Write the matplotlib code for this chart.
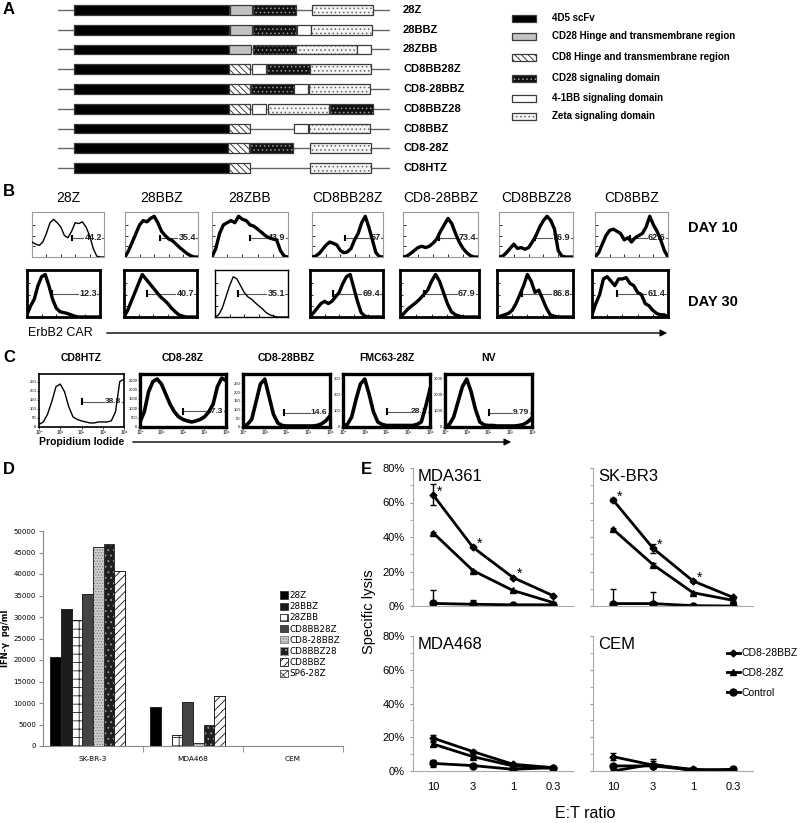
import matplotlib
matplotlib.use("Agg")
import matplotlib.pyplot as plt
import numpy as np
from matplotlib.lines import Line2D
from matplotlib.patches import FancyArrowPatch
from matplotlib.ticker import PercentFormatter

plt.rcParams["font.family"] = ["Liberation Sans", "DejaVu Sans"]
plt.rcParams["hatch.linewidth"] = 0.6

# ---------------- data ----------------
# A: CAR constructs (domain order + start position, arbitrary length units)
construct_names = ["28Z", "28BBZ", "28ZBB", "CD8BB28Z", "CD8-28BBZ",
                   "CD8BBZ28", "CD8BBZ", "CD8-28Z", "CD8HTZ"]
construct_domains = [
    ["scfv", "cd28tm", "cd28", "zeta"],
    ["scfv", "cd28tm", "cd28", "bb", "zeta"],
    ["scfv", "cd28tm", "cd28", "zeta", "bb"],
    ["scfv", "cd8tm", "bb", "cd28", "zeta"],
    ["scfv", "cd8tm", "cd28", "bb", "zeta"],
    ["scfv", "cd8tm", "bb", "zeta", "cd28"],
    ["scfv", "cd8tm", "bb", "zeta"],
    ["scfv", "cd8tm", "cd28", "zeta"],
    ["scfv", "cd8tm", "zeta"],
]
construct_starts = [
    [0, 156, 179, 238],
    [0, 156, 179, 223, 237],
    [0, 155, 179, 222, 283],
    [0, 155, 178, 193, 236],
    [0, 155, 177, 220, 235],
    [0, 155, 178, 194, 256],
    [0, 155, 220, 235],
    [0, 154, 176, 236],
    [0, 155, 236],
]
backbone = [-16, 316]
domain_keys = ["scfv", "cd28tm", "cd8tm", "cd28", "bb", "zeta"]
domain_lengths = [155, 22, 21, 43, 14, 61]
domain_labels = ["4D5 scFv", "CD28 Hinge and transmembrane region",
                 "CD8 Hinge and transmembrane region", "CD28 signaling domain",
                 "4-1BB signaling domain", "Zeta signaling domain"]

# B: ErbB2 CAR expression histograms (relative counts across the channel range)
b_titles = ["28Z", "28BBZ", "28ZBB", "CD8BB28Z", "CD8-28BBZ", "CD8BBZ28", "CD8BBZ"]
b_day10 = [
    [0.35, 0.3, 0.27, 0.35, 0.55, 0.8, 0.88, 0.8, 0.7, 0.5, 0.45, 0.6, 0.8, 0.78, 0.82, 0.7, 0.5, 0.2, 0.02, 0, 0],
    [0, 0.15, 0.35, 0.55, 0.75, 0.85, 0.82, 0.9, 0.95, 0.8, 0.6, 0.5, 0.42, 0.38, 0.3, 0.22, 0.15, 0.08, 0.03, 0, 0],
    [0, 0.2, 0.55, 0.75, 0.8, 0.85, 0.8, 0.95, 0.88, 0.85, 0.75, 0.72, 0.65, 0.58, 0.5, 0.45, 0.42, 0.4, 0.15, 0.02, 0],
    [0, 0.02, 0.08, 0.18, 0.28, 0.35, 0.32, 0.28, 0.15, 0.1, 0.12, 0.2, 0.4, 0.55, 0.8, 0.95, 0.7, 0.4, 0.1, 0.01, 0],
    [0, 0.02, 0.08, 0.15, 0.22, 0.25, 0.22, 0.25, 0.32, 0.42, 0.6, 0.75, 0.9, 0.78, 0.55, 0.35, 0.2, 0.1, 0.03, 0, 0],
    [0, 0.02, 0.1, 0.2, 0.3, 0.2, 0.22, 0.18, 0.22, 0.35, 0.5, 0.7, 0.85, 0.95, 0.85, 0.65, 0.15, 0.02, 0, 0, 0],
    [0, 0.1, 0.3, 0.5, 0.62, 0.65, 0.6, 0.55, 0.4, 0.45, 0.35, 0.45, 0.5, 0.55, 0.7, 0.95, 0.75, 0.6, 0.4, 0.15, 0],
]
b_day30 = [
    [0.05, 0.25, 0.4, 0.7, 0.9, 0.95, 0.7, 0.4, 0.2, 0.12, 0.1, 0.08, 0.05, 0.02, 0, 0, 0, 0, 0, 0, 0],
    [0, 0.15, 0.35, 0.55, 0.75, 0.95, 0.85, 0.75, 0.65, 0.55, 0.45, 0.38, 0.3, 0.2, 0.12, 0.05, 0.02, 0, 0, 0, 0],
    [0, 0.05, 0.2, 0.45, 0.7, 0.9, 0.85, 0.7, 0.55, 0.45, 0.4, 0.32, 0.25, 0.18, 0.1, 0.05, 0.02, 0, 0, 0, 0],
    [0, 0.1, 0.2, 0.3, 0.35, 0.3, 0.35, 0.45, 0.55, 0.75, 0.9, 0.95, 0.65, 0.35, 0.1, 0.02, 0, 0, 0, 0, 0],
    [0, 0.08, 0.18, 0.25, 0.32, 0.4, 0.5, 0.6, 0.8, 0.95, 0.8, 0.55, 0.3, 0.12, 0.05, 0.02, 0, 0, 0, 0, 0],
    [0, 0.02, 0.05, 0.08, 0.15, 0.3, 0.5, 0.7, 0.95, 0.8, 0.55, 0.6, 0.4, 0.2, 0.05, 0.02, 0, 0, 0, 0, 0],
    [0.05, 0.3, 0.5, 0.85, 0.9, 0.8, 0.7, 0.85, 0.85, 0.88, 0.75, 0.7, 0.55, 0.5, 0.3, 0.25, 0.15, 0.08, 0.05, 0.05, 0],
]
b_pct10 = [44.2, 35.4, 43.9, 67, 73.4, 76.9, 62.6]
b_pct30 = [12.3, 40.7, 35.1, 69.4, 67.9, 86.8, 61.4]
b_gate10 = [0.55, 0.48, 0.5, 0.47, 0.48, 0.49, 0.48]
b_gate30 = [0.34, 0.31, 0.32, 0.32, 0.3, 0.33, 0.33]

# C: propidium iodide histograms (log decades 10^0..10^4)
c_titles = ["CD8HTZ", "CD8-28Z", "CD8-28BBZ", "FMC63-28Z", "NV"]
c_hist = [
    [0.05, 0.1, 0.25, 0.5, 0.8, 0.85, 0.7, 0.4, 0.2, 0.15, 0.12, 0.1, 0.08, 0.08, 0.1, 0.1, 0.1, 0.12, 0.3, 0.9, 0.95],
    [0.1, 0.3, 0.7, 0.9, 0.95, 0.85, 0.65, 0.45, 0.3, 0.2, 0.15, 0.12, 0.1, 0.12, 0.15, 0.2, 0.3, 0.45, 0.8, 0.97, 0.92],
    [0.02, 0.05, 0.15, 0.5, 0.85, 0.95, 0.6, 0.25, 0.08, 0.03, 0.02, 0.02, 0.02, 0.02, 0.02, 0.02, 0.02, 0.03, 0.06, 0.12, 0.22],
    [0.02, 0.05, 0.2, 0.55, 0.85, 0.95, 0.65, 0.3, 0.1, 0.05, 0.03, 0.03, 0.03, 0.03, 0.03, 0.03, 0.03, 0.05, 0.1, 0.4, 0.75],
    [0.02, 0.05, 0.2, 0.5, 0.8, 0.95, 0.7, 0.35, 0.1, 0.04, 0.03, 0.03, 0.02, 0.02, 0.02, 0.02, 0.02, 0.03, 0.05, 0.1, 0.18],
]
c_pct = [38.8, 47.3, 14.6, 28.1, 9.79]
c_gate_x = [2.0, 2.0, 1.9, 2.0, 2.0]
c_gate_y = [0.5, 0.31, 0.28, 0.3, 0.28]
c_ymax = [280, 2700, 290, 310, 3100]
c_yticks = [[0, 50, 100, 150, 200, 250], [0, 500, 1000, 1500, 2000, 2500],
            [0, 50, 100, 150, 200, 250], [0, 100, 200, 300], [0, 1000, 2000, 3000]]
c_xticklabels = ["10\u2070", "10\u00b9", "10\u00b2", "10\u00b3", "10\u2074"]

# D: IFN-gamma release
d_groups = ["SK-BR-3", "MDA468", "CEM"]
d_series = ["28Z", "28BBZ", "28ZBB", "CD8BB28Z", "CD8-28BBZ", "CD8BBZ28", "CD8BBZ", "SP6-28Z"]
d_values = [
    [20600, 9000, 0],
    [31800, 0, 0],
    [29200, 2600, 0],
    [35400, 10300, 0],
    [46300, 800, 0],
    [46900, 4900, 0],
    [40700, 11700, 0],
    [0, 0, 0],
]

# E: specific lysis vs E:T ratio
e_ratios = ["10", "3", "1", "0.3"]
e_targets = ["MDA361", "SK-BR3", "MDA468", "CEM"]
lysis_bbz = [[0.645, 0.34, 0.165, 0.06], [0.615, 0.335, 0.145, 0.05],
             [0.195, 0.115, 0.04, 0.02], [0.085, 0.035, 0.01, 0.0]]
err_bbz = [[0.06, 0.006, 0.005, 0.005], [0.01, 0.025, 0.005, 0.005],
           [0.02, 0.01, 0.005, 0.005], [0.02, 0.01, 0.005, 0.005]]
lysis_28z = [[0.425, 0.205, 0.09, 0.02], [0.445, 0.24, 0.077, 0.033],
             [0.16, 0.085, 0.03, 0.016], [0.0, 0.04, 0.002, 0.0]]
err_28z = [[0.005, 0.005, 0.005, 0.005], [0.005, 0.01, 0.005, 0.005],
           [0.01, 0.01, 0.005, 0.005], [0.005, 0.02, 0.005, 0.005]]
lysis_ctrl = [[0.015, 0.01, 0.007, 0.007], [0.014, 0.014, 0.002, 0.0],
              [0.045, 0.032, 0.01, 0.02], [0.03, 0.03, 0.006, 0.01]]
err_ctrl = [[0.08, 0.025, 0.0, 0.0], [0.085, 0.07, 0.0, 0.0],
            [0.02, 0.01, 0.0, 0.005], [0.01, 0.04, 0.02, 0.005]]
e_stars = [[0, 1, 2], [0, 1, 2], [], []]

# ---------------- layout helpers ----------------
W, H = 800, 823


def rect(l, t, r, b):
    return [l / W, 1 - b / H, (r - l) / W, (b - t) / H]


def fx(x):
    return x / W


def fy(y):
    return 1 - y / H


domain_face = {"scfv": "black", "cd28tm": "#c2c2c2", "cd8tm": "white",
               "cd28": "#111111", "bb": "white", "zeta": "#f4f4f4"}
domain_hatch = {"scfv": None, "cd28tm": None, "cd8tm": "\\\\\\\\\\",
                "cd28": "....", "bb": None, "zeta": "...."}
domain_hcolor = {"cd8tm": "#222222", "cd28": "#9a9a9a", "zeta": "#666666"}


def draw_block(ax, x, y, w, h, key):
    ax.barh(y, w, left=x, height=h, color=domain_face[key], hatch=domain_hatch[key],
            edgecolor=domain_hcolor.get(key, "none"), linewidth=0)
    ax.barh(y, w, left=x, height=h, fill=False, edgecolor="#3a3a3a", linewidth=0.9)


fig = plt.figure(figsize=(8, 8.23), dpi=100)

for letter, (xx, yy) in zip("ABCDE", [(3, 10), (3, 192), (3, 357), (3, 470), (361, 470)]):
    fig.text(fx(xx), fy(yy), letter, fontsize=12, fontweight="bold", va="center")

# ---------------- A ----------------
axA = fig.add_axes(rect(58, 0, 390, 178))
axA.set_xlim(-16, 316)
axA.set_ylim(8.5, -0.5)
axA.axis("off")
for i, name in enumerate(construct_names):
    axA.plot(backbone, [i, i], color="#666666", lw=1, zorder=0)
    for key, x0 in zip(construct_domains[i], construct_starts[i]):
        draw_block(axA, x0, i, domain_lengths[domain_keys.index(key)], 0.5, key)
    axA.text(329, i, name, fontsize=8, fontweight="bold", va="center", ha="left")

axL = fig.add_axes(rect(505, 0, 800, 125))
axL.set_xlim(0, 295)
axL.set_ylim(125, 0)
axL.axis("off")
legend_rows = [18, 36, 57, 78, 98, 116]
for key, lab, yy in zip(domain_keys, domain_labels, legend_rows):
    draw_block(axL, 7, yy, 24, 7, key)
    axL.text(47, yy, lab, fontsize=7, fontweight="bold", va="center")

# ---------------- B ----------------
bx = np.linspace(0, 1, 21)
row1_l = [32, 125, 212, 312, 403, 499, 595]
row1_r = [104, 198, 288, 383, 478, 573, 668]
row2_l = [27, 124, 215, 310, 400, 497, 592]
row2_r = [100, 197, 288, 383, 479, 573, 668]


def hist_box(ax, frame_col, frame_lw):
    ax.set_xlim(0, 1)
    ax.set_ylim(0, 1.05)
    for s in ax.spines.values():
        s.set_color(frame_col)
        s.set_linewidth(frame_lw)
    ax.set_xticks([0.2, 0.4, 0.6, 0.8])
    ax.set_yticks([0.25, 0.5, 0.75])
    ax.tick_params(direction="in", length=2, width=0.6, labelleft=False, labelbottom=False)


def draw_gate(ax, x0, x1, y, pct, fs):
    ax.plot([x0, x1], [y, y], color="#555555", lw=0.8, zorder=2)
    ax.plot([x0, x0], [y - 0.05, y + 0.05], color="black", lw=1.5, zorder=2)
    ax.text(x1 - (x1 - x0) * 0.06, y, f"{pct:g}", ha="right", va="center", fontsize=fs,
            fontweight="bold", color="#222222", zorder=3,
            bbox=dict(fc="white", ec="none", pad=0.2))


for i in range(7):
    ax1 = fig.add_axes(rect(row1_l[i], 212, row1_r[i], 257))
    hist_box(ax1, "#9a9a9a", 0.8)
    ax1.plot(bx, b_day10[i], color="black", lw=1.0 if i == 0 else 2.4, zorder=4)
    draw_gate(ax1, b_gate10[i], 1.0, 0.45, b_pct10[i], 6.5)
    fig.text(fx((row1_l[i] + row1_r[i]) / 2), fy(198), b_titles[i], fontsize=10,
             ha="center", va="center")

    ax2 = fig.add_axes(rect(row2_l[i], 270, row2_r[i], 317))
    hist_box(ax2, "black", 1.0 if i == 2 else 2.0)
    ax2.plot(bx, b_day30[i], color="black", lw=1.0 if i == 2 else 2.4, zorder=4)
    draw_gate(ax2, b_gate30[i], 1.0, 0.52, b_pct30[i], 6.5)

fig.text(fx(688), fy(228), "DAY 10", fontsize=10.5, fontweight="bold", va="center")
fig.text(fx(688), fy(302), "DAY 30", fontsize=10.5, fontweight="bold", va="center")
fig.text(fx(28), fy(333), "ErbB2 CAR", fontsize=9, va="center")
fig.add_artist(FancyArrowPatch((fx(104), fy(333)), (fx(670), fy(333)),
                               transform=fig.transFigure, arrowstyle="-|>",
                               mutation_scale=10, lw=1, color="black"))

# ---------------- C ----------------
cx = np.linspace(0, 4, 21)
c_l = [39, 140, 243, 343, 445]
c_r = [124, 226, 330, 430, 532]
for i in range(5):
    ax = fig.add_axes(rect(c_l[i], 374, c_r[i], 427))
    ax.set_xlim(0, 4)
    ax.set_ylim(0, 1.05)
    for s in ax.spines.values():
        s.set_linewidth(1.2 if i == 0 else 2.4)
    ax.plot(cx, c_hist[i], color="black", lw=1.0 if i == 0 else 2.6, zorder=4)
    ax.set_xticks(range(5))
    ax.set_xticklabels(c_xticklabels, fontsize=3.5)
    ax.set_yticks(np.array(c_yticks[i]) / c_ymax[i])
    ax.set_yticklabels([str(v) for v in c_yticks[i]], fontsize=3)
    ax.tick_params(length=1.5, width=0.5, pad=0.4)
    draw_gate(ax, c_gate_x[i], 4.0, c_gate_y[i], c_pct[i], 6)
    fig.text(fx((c_l[i] + c_r[i]) / 2), fy(358), c_titles[i], fontsize=7.5,
             fontweight="bold", ha="center", va="center")

fig.text(fx(39), fy(442), "Propidium Iodide", fontsize=7.5, fontweight="bold", va="center")
fig.add_artist(FancyArrowPatch((fx(130), fy(442)), (fx(514), fy(442)),
                               transform=fig.transFigure, arrowstyle="-|>",
                               mutation_scale=10, lw=1, color="black"))

# ---------------- D ----------------
d_face = ["black", "#1c1c1c", "white", "#444444", "#cfcfcf", "#1e1e1e", "white", "white"]
d_hatch = [None, None, "++", None, "......", "...", "////", "xxxx"]
d_hcol = ["#333333", "#333333", "#222222", "#333333", "#777777", "#9a9a9a", "#111111", "#444444"]
axD = fig.add_axes(rect(43, 531, 343, 746))
xg = np.arange(len(d_groups))
bw = 0.107
for k, (name, vals) in enumerate(zip(d_series, d_values)):
    xs = xg - 4 * bw + bw * k + bw / 2
    axD.bar(xs, vals, width=bw, color=d_face[k], hatch=d_hatch[k], edgecolor=d_hcol[k],
            linewidth=0.6, label=name)
    axD.bar(xs, vals, width=bw, fill=False, edgecolor="#222222", linewidth=0.6)
axD.set_xlim(-0.5, 2.5)
axD.set_ylim(0, 50000)
axD.set_yticks(range(0, 50001, 5000))
axD.set_xticks(xg)
axD.set_xticklabels(d_groups)
axD.set_xticks([0.5, 1.5, 2.5], minor=True)
axD.tick_params(axis="x", which="major", length=0, labelsize=5.3, pad=7)
axD.tick_params(axis="x", which="minor", length=4, color="#888888")
axD.tick_params(axis="y", length=3, color="#888888", labelsize=5.0, pad=2)
for lab in axD.get_xticklabels() + axD.get_yticklabels():
    lab.set_family("DejaVu Sans")
for s in ["top", "right"]:
    axD.spines[s].set_visible(False)
for s in ["left", "bottom"]:
    axD.spines[s].set_color("#888888")
fig.text(fx(6), fy(638), "IFN-\u03b3  pg/ml", rotation=90, fontsize=6, fontweight="bold",
         family="DejaVu Sans", ha="center", va="center")
hd, ld = axD.get_legend_handles_labels()
axD.legend(hd, ld, loc="upper left", bbox_to_anchor=(fx(280), fy(591)),
           bbox_transform=fig.transFigure, frameon=False, prop={"family": "DejaVu Sans", "size": 6.3},
           handlelength=0.9, handleheight=0.9, handletextpad=0.2, labelspacing=0.25,
           borderaxespad=0, borderpad=0)

# ---------------- E ----------------
e_rects = [rect(413, 468, 573, 606), rect(593, 468, 753, 606),
           rect(413, 636, 573, 771), rect(593, 636, 753, 771)]
ex = np.arange(len(e_ratios))
for j, target in enumerate(e_targets):
    ax = fig.add_axes(e_rects[j])
    for vals, err, mk, ms in [(lysis_bbz[j], err_bbz[j], "D", 3.5),
                              (lysis_28z[j], err_28z[j], "^", 5),
                              (lysis_ctrl[j], err_ctrl[j], "o", 5)]:
        ax.errorbar(ex, vals, yerr=err, color="black", lw=2, marker=mk, ms=ms,
                    elinewidth=1, capsize=2)
    for s in e_stars[j]:
        ax.text(ex[s] + 0.1, lysis_bbz[j][s] + 0.02, "*", fontsize=10, ha="left", va="center")
    ax.set_xlim(-0.5, 3.5)
    ax.set_ylim(0, 0.8)
    ax.set_yticks(np.arange(0, 0.81, 0.2))
    ax.set_yticks(np.arange(0.1, 0.8, 0.2), minor=True)
    ax.yaxis.set_major_formatter(PercentFormatter(1.0, decimals=0))
    ax.set_xticks(ex)
    ax.set_xticklabels(e_ratios)
    ax.tick_params(axis="x", length=0, labelsize=8, pad=8,
                   labelbottom=j >= 2)
    ax.tick_params(axis="y", which="both", length=2.5, color="#999999", labelsize=8,
                   labelleft=j % 2 == 0)
    for s in ["top", "right"]:
        ax.spines[s].set_visible(False)
    for s in ["left", "bottom"]:
        ax.spines[s].set_color("#aaaaaa")
    ax.text(0.03, 0.99, target, transform=ax.transAxes, fontsize=12, va="top", ha="left")

fig.text(fx(369), fy(612), "Specific lysis", rotation=90, fontsize=10.5, ha="center", va="center")
fig.text(fx(585), fy(813), "E:T ratio", fontsize=11.5, ha="center", va="center")
e_handles = [Line2D([], [], color="black", lw=2, marker="D", ms=3.5),
             Line2D([], [], color="black", lw=2, marker="^", ms=5),
             Line2D([], [], color="black", lw=2, marker="o", ms=5)]
fig.legend(e_handles, ["CD8-28BBZ", "CD8-28Z", "Control"], loc="upper left",
           bbox_to_anchor=(fx(722), fy(643)), frameon=False, fontsize=7.5,
           handlelength=1.2, handletextpad=0.2, labelspacing=0.95, borderpad=0)

fig.savefig("out.png", dpi=100)
